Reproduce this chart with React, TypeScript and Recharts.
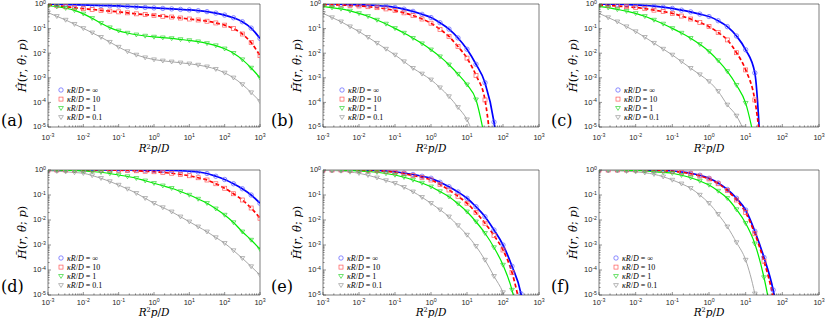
import { LineChart, Line, XAxis, YAxis, ReferenceArea } from 'recharts';

// log10(R^2 p / D) at which every curve is sampled
const LOG_X = [-3, -2.75, -2.5, -2.25, -2, -1.75, -1.5, -1.25, -1, -0.75, -0.5, -0.25, 0, 0.25, 0.5, 0.75, 1, 1.25, 1.5, 1.75, 2, 2.25, 2.5, 2.75, 3];
const X_MAJOR = [-3, -2, -1, 0, 1, 2, 3];
const Y_MAJOR = [-5, -4, -3, -2, -1, 0];
const LEGEND_LABELS = ['∞', '10', '1', '0.1'];

// log10 of H, one array per kappa R/D; null once the curve has left the plot
const aInf = [0, -0.01, -0.02, -0.03, -0.04, -0.05, -0.06, -0.07, -0.08, -0.10, -0.12, -0.14, -0.16, -0.18, -0.20, -0.22, -0.24, -0.27, -0.31, -0.37, -0.45, -0.56, -0.72, -0.98, -1.40];
const a10 = [-0.03, -0.07, -0.11, -0.15, -0.19, -0.22, -0.26, -0.29, -0.32, -0.36, -0.40, -0.43, -0.46, -0.50, -0.53, -0.57, -0.61, -0.65, -0.70, -0.77, -0.86, -1.00, -1.22, -1.57, -2.10];
const a1 = [-0.07, -0.11, -0.17, -0.26, -0.40, -0.58, -0.78, -0.96, -1.09, -1.18, -1.25, -1.30, -1.34, -1.37, -1.40, -1.44, -1.48, -1.53, -1.60, -1.69, -1.82, -2.00, -2.26, -2.60, -3.00];
const a01 = [-0.35, -0.50, -0.65, -0.82, -0.99, -1.17, -1.35, -1.55, -1.75, -1.93, -2.07, -2.18, -2.26, -2.31, -2.35, -2.39, -2.43, -2.48, -2.55, -2.65, -2.80, -3.00, -3.27, -3.60, -3.96];

const bInf = [0, 0, -0.01, -0.02, -0.03, -0.04, -0.06, -0.09, -0.14, -0.21, -0.30, -0.42, -0.55, -0.76, -1.02, -1.38, -1.84, -2.45, -3.20, -4.80, -8, null, null, null, null];
const b10 = [-0.02, -0.03, -0.04, -0.06, -0.08, -0.11, -0.15, -0.20, -0.27, -0.36, -0.47, -0.61, -0.78, -1.03, -1.32, -1.73, -2.20, -2.90, -3.90, -7, null, null, null, null, null];
const b1 = [-0.10, -0.15, -0.20, -0.28, -0.38, -0.50, -0.65, -0.81, -0.99, -1.18, -1.39, -1.61, -1.86, -2.14, -2.47, -2.85, -3.28, -3.89, -5.5, null, null, null, null, null, null];
const b01 = [-0.38, -0.55, -0.72, -0.92, -1.12, -1.35, -1.59, -1.83, -2.07, -2.34, -2.61, -2.84, -3.08, -3.40, -3.76, -4.20, -4.70, -5.6, null, null, null, null, null, null, null];

const cInf = [0, -0.01, -0.01, -0.02, -0.04, -0.06, -0.09, -0.13, -0.18, -0.25, -0.32, -0.41, -0.51, -0.68, -0.92, -1.30, -1.86, -2.80, -9, null, null, null, null, null, null];
const c10 = [-0.04, -0.06, -0.08, -0.11, -0.14, -0.19, -0.25, -0.31, -0.38, -0.49, -0.61, -0.75, -0.92, -1.16, -1.46, -1.98, -2.68, -3.90, -7, null, null, null, null, null, null];
const c1 = [-0.10, -0.15, -0.22, -0.29, -0.38, -0.50, -0.65, -0.81, -0.99, -1.18, -1.39, -1.64, -1.93, -2.30, -2.74, -3.30, -4.03, -5.6, null, null, null, null, null, null, null];
const c01 = [-0.38, -0.55, -0.72, -0.92, -1.12, -1.35, -1.59, -1.83, -2.07, -2.34, -2.61, -2.87, -3.15, -3.55, -4.10, -4.55, -5.30, null, null, null, null, null, null, null, null];

const dInf = [0, 0, 0, 0, 0, 0, 0, 0, 0, 0, 0, -0.01, -0.01, -0.02, -0.02, -0.03, -0.05, -0.08, -0.14, -0.25, -0.38, -0.55, -0.75, -1.00, -1.33];
const d10 = [0, 0, 0, 0, 0, 0, 0, -0.01, -0.01, -0.02, -0.03, -0.05, -0.07, -0.10, -0.13, -0.18, -0.23, -0.31, -0.40, -0.55, -0.73, -0.95, -1.20, -1.52, -1.93];
const d1 = [0, 0, -0.01, -0.02, -0.04, -0.06, -0.09, -0.14, -0.20, -0.26, -0.33, -0.43, -0.53, -0.63, -0.73, -0.86, -1.00, -1.16, -1.33, -1.55, -1.80, -2.10, -2.47, -2.80, -3.17];
const d01 = [-0.03, -0.05, -0.07, -0.10, -0.13, -0.22, -0.33, -0.46, -0.60, -0.76, -0.93, -1.13, -1.33, -1.50, -1.67, -1.87, -2.07, -2.27, -2.47, -2.70, -2.93, -3.22, -3.53, -3.86, -4.20];

const eInf = [0, 0, 0, 0, -0.01, -0.01, -0.02, -0.04, -0.07, -0.12, -0.18, -0.25, -0.33, -0.49, -0.67, -0.88, -1.13, -1.47, -1.87, -2.40, -3.00, -3.85, -4.95, -7.5, null];
const e10 = [0, 0, 0, -0.01, -0.01, -0.02, -0.03, -0.05, -0.09, -0.15, -0.22, -0.30, -0.40, -0.58, -0.80, -1.05, -1.33, -1.70, -2.13, -2.62, -3.20, -4.10, -5.6, null, null];
const e1 = [0, -0.01, -0.01, -0.02, -0.04, -0.06, -0.09, -0.14, -0.20, -0.29, -0.40, -0.52, -0.67, -0.86, -1.07, -1.35, -1.67, -2.07, -2.53, -3.10, -3.80, -4.80, -6.5, null, null];
const e01 = [-0.01, -0.02, -0.04, -0.08, -0.13, -0.21, -0.31, -0.42, -0.53, -0.69, -0.87, -1.09, -1.33, -1.59, -1.87, -2.22, -2.60, -3.05, -3.60, -4.25, -4.90, -6, null, null, null];

const fInf = [0, 0, 0, 0, 0, 0, -0.01, -0.02, -0.04, -0.08, -0.13, -0.21, -0.33, -0.52, -0.78, -1.13, -1.60, -2.45, -3.50, -4.80, -7, null, null, null, null];
const f10 = [0, 0, 0, 0, 0, 0, -0.01, -0.02, -0.05, -0.09, -0.15, -0.24, -0.36, -0.55, -0.82, -1.20, -1.70, -2.55, -3.65, -5.10, -7.5, null, null, null, null];
const f1 = [0, 0, 0, -0.01, -0.02, -0.04, -0.07, -0.10, -0.13, -0.21, -0.31, -0.44, -0.60, -0.84, -1.13, -1.58, -2.13, -2.95, -4.30, -6.2, null, null, null, null, null];
const f01 = [-0.01, -0.02, -0.03, -0.05, -0.07, -0.11, -0.17, -0.27, -0.40, -0.55, -0.73, -1.00, -1.33, -1.77, -2.27, -2.90, -3.60, -4.95, -7, null, null, null, null, null, null];

const SERIES = [
  { key: 'inf', line: '#0000ff', mark: '#5a5aff', shape: 'circle', dash: undefined, width: 1.7 },
  { key: 'k10', line: '#ff0000', mark: '#ff5a5a', shape: 'square', dash: '4 2.5', width: 1.7 },
  { key: 'k1', line: '#00ee00', mark: '#33d633', shape: 'tri', dash: undefined, width: 1.2 },
  { key: 'k01', line: '#a8a8a8', mark: '#9a9a9a', shape: 'tri', dash: undefined, width: 1 },
];

const PANELS = [
  { tag: '(a)', hat: 'Ĥ', left: 0, top: 0, w: 270, h: 162, pl: 48, pr: 260, pt: 4, pb: 127, legX: 13, data: [aInf, a10, a1, a01] },
  { tag: '(b)', hat: 'H̄', left: 270, top: 0, w: 280, h: 162, pl: 53, pr: 269, pt: 4, pb: 127, legX: 19, data: [bInf, b10, b1, b01] },
  { tag: '(c)', hat: 'Ȟ', left: 550, top: 0, w: 280, h: 162, pl: 49, pr: 269, pt: 4, pb: 127, legX: 19, data: [cInf, c10, c1, c01] },
  { tag: '(d)', hat: 'H̃', left: 0, top: 162, w: 270, h: 161, pl: 48, pr: 260, pt: 8, pb: 133, legX: 13, data: [dInf, d10, d1, d01] },
  { tag: '(e)', hat: 'H̄', left: 270, top: 162, w: 280, h: 161, pl: 53, pr: 269, pt: 8, pb: 133, legX: 18, data: [eInf, e10, e1, e01] },
  { tag: '(f)', hat: 'Ȟ', left: 550, top: 162, w: 280, h: 161, pl: 49, pr: 269, pt: 8, pb: 133, legX: 17, data: [fInf, f10, f1, f01] },
];

const AXIS = '#262626';
const SANS = '"Liberation Sans", Arial, sans-serif';
const SERIF = '"DejaVu Serif", serif';

const logTicks = (lo: number, hi: number) => {
  const out: number[] = [];
  for (let e = lo; e < hi; e++) for (let m = 1; m < 10; m++) out.push(m * 10 ** e);
  out.push(10 ** hi);
  return out;
};
const X_TICKS = logTicks(X_MAJOR[0], X_MAJOR[X_MAJOR.length - 1]);
const Y_TICKS = logTicks(Y_MAJOR[0], Y_MAJOR[Y_MAJOR.length - 1]);

const majorExp = (v: number) => {
  const l = Math.log10(v);
  return Math.abs(l - Math.round(l)) < 1e-6 ? Math.round(l) : null;
};

const Marker = ({ shape, cx, cy, color }: any) => {
  if (cx == null || cy == null || isNaN(cx) || isNaN(cy)) return null;
  const common = { fill: 'none', stroke: color, strokeWidth: 0.7, strokeDasharray: 'none' };
  if (shape === 'circle') return <circle cx={cx} cy={cy} r={2.2} {...common} />;
  if (shape === 'square') return <rect x={cx - 2} y={cy - 2} width={4} height={4} {...common} />;
  return <path d={`M${cx - 2.4},${cy - 1.7}L${cx + 2.4},${cy - 1.7}L${cx},${cy + 2.2}Z`} {...common} />;
};

const XTick = ({ x, y, payload, gap }: any) => {
  const e = majorExp(payload.value);
  return (
    <g>
      <line x1={x} x2={x} y1={y} y2={y - (e !== null ? 3 : 1.6)} stroke={AXIS} strokeWidth={0.5} />
      {e !== null && (
        <text x={x} y={y + gap} textAnchor="middle" fontSize={7.5} fontFamily={SANS} fill={AXIS}>
          10<tspan dy={-2.8} fontSize={5.2}>{e}</tspan>
        </text>
      )}
    </g>
  );
};

const YTick = ({ x, y, payload }: any) => {
  const e = majorExp(payload.value);
  return (
    <g>
      <line x1={x} x2={x + (e !== null ? 3 : 1.6)} y1={y} y2={y} stroke={AXIS} strokeWidth={0.5} />
      {e !== null && (
        <text x={x - 2} y={y + 2.4} textAnchor="end" fontSize={7.5} fontFamily={SANS} fill={AXIS}>
          10<tspan dy={-2.6} fontSize={5.2}>{e}</tspan>
        </text>
      )}
    </g>
  );
};

const Panel = ({ p }: any) => {
  const rows = LOG_X.map((lx, i) => {
    const r: any = { x: 10 ** lx };
    SERIES.forEach((s, j) => {
      const v = p.data[j][i];
      r[s.key] = v == null ? null : 10 ** v;
    });
    return r;
  });
  const gap = p.top === 0 ? 12.5 : 10;
  return (
    <div style={{ position: 'absolute', left: p.left, top: p.top }}>
      <LineChart width={p.w} height={p.h} data={rows} margin={{ top: p.pt, right: p.w - p.pr, bottom: 0, left: 0 }}>
        <XAxis dataKey="x" type="number" scale="log" domain={[1e-3, 1e3]} ticks={X_TICKS} interval={0}
          allowDataOverflow height={p.h - p.pb} axisLine={false} tickLine={false} tickSize={0} tickMargin={0}
          tick={(props: any) => <XTick {...props} gap={gap} />} />
        <YAxis type="number" scale="log" domain={[1e-5, 1]} ticks={Y_TICKS} interval={0}
          allowDataOverflow width={p.pl} axisLine={false} tickLine={false} tickSize={0} tickMargin={0}
          tick={(props: any) => <YTick {...props} />} />
        <ReferenceArea x1={1e-3} x2={1e3} y1={1e-5} y2={1} fill="none" stroke={AXIS} strokeWidth={0.6} ifOverflow="visible" />
        {SERIES.map((s) => (
          <Line key={s.key} dataKey={s.key} type="monotone" stroke={s.line} strokeWidth={s.width}
            strokeDasharray={s.dash} isAnimationActive={false} activeDot={false} connectNulls={false}
            dot={(d: any) => <Marker key={`${s.key}-${d.index}`} shape={s.shape} cx={d.cx} cy={d.cy} color={s.mark} />} />
        ))}
      </LineChart>
    </div>
  );
};

const Labels = ({ p }: any) => {
  const yMid = p.top + (p.pt + p.pb) / 2;
  const yx = p.left + p.pl - 22;
  const xMid = p.left + (p.pl + p.pr) / 2;
  const xlBase = p.top + p.pb + (p.top === 0 ? 25 : 20.5);
  const legTop = p.top + p.pb - 37;
  const mx = p.left + p.pl + p.legX;
  return (
    <g>
      <text x={p.left + 1} y={p.top + p.pb - (p.top === 0 ? 1 : 3)} fontSize={16} fontFamily={SERIF} fill="#000">{p.tag}</text>
      <text x={yx} y={yMid} transform={`rotate(-90 ${yx} ${yMid})`} textAnchor="middle" fontSize={11.5} fontFamily={SERIF} fill="#000">
        <tspan fontStyle="italic">{p.hat}</tspan>(<tspan fontStyle="italic">r</tspan>, <tspan fontStyle="italic">θ</tspan>; <tspan fontStyle="italic">p</tspan>)
      </text>
      <text x={xMid} y={xlBase} textAnchor="middle" fontSize={10.5} fontFamily={SERIF} fill="#000">
        <tspan fontStyle="italic">R</tspan><tspan dy={-3.5} fontSize={6.5}>2</tspan><tspan dy={3.5} fontStyle="italic">p</tspan>/<tspan fontStyle="italic">D</tspan>
      </text>
      {SERIES.map((s, i) => {
        const cy = legTop + i * 9.1;
        return (
          <g key={s.key}>
            <Marker shape={s.shape} cx={mx} cy={cy} color={s.mark} />
            <text x={mx + 6} y={cy + 2.6} fontSize={8} fontFamily='"Liberation Serif", serif' fill="#000">
              <tspan fontStyle="italic">κR</tspan>/<tspan fontStyle="italic">D</tspan> = {LEGEND_LABELS[i]}
            </text>
          </g>
        );
      })}
    </g>
  );
};

export default function App() {
  return (
    <div style={{ position: 'absolute', left: 0, top: 0, width: 830, height: 323, background: '#fff', overflow: 'hidden' }}>
      {PANELS.map((p) => <Panel key={p.tag} p={p} />)}
      <svg width={830} height={323} style={{ position: 'absolute', left: 0, top: 0, pointerEvents: 'none' }}>
        {PANELS.map((p) => <Labels key={p.tag} p={p} />)}
      </svg>
    </div>
  );
}
